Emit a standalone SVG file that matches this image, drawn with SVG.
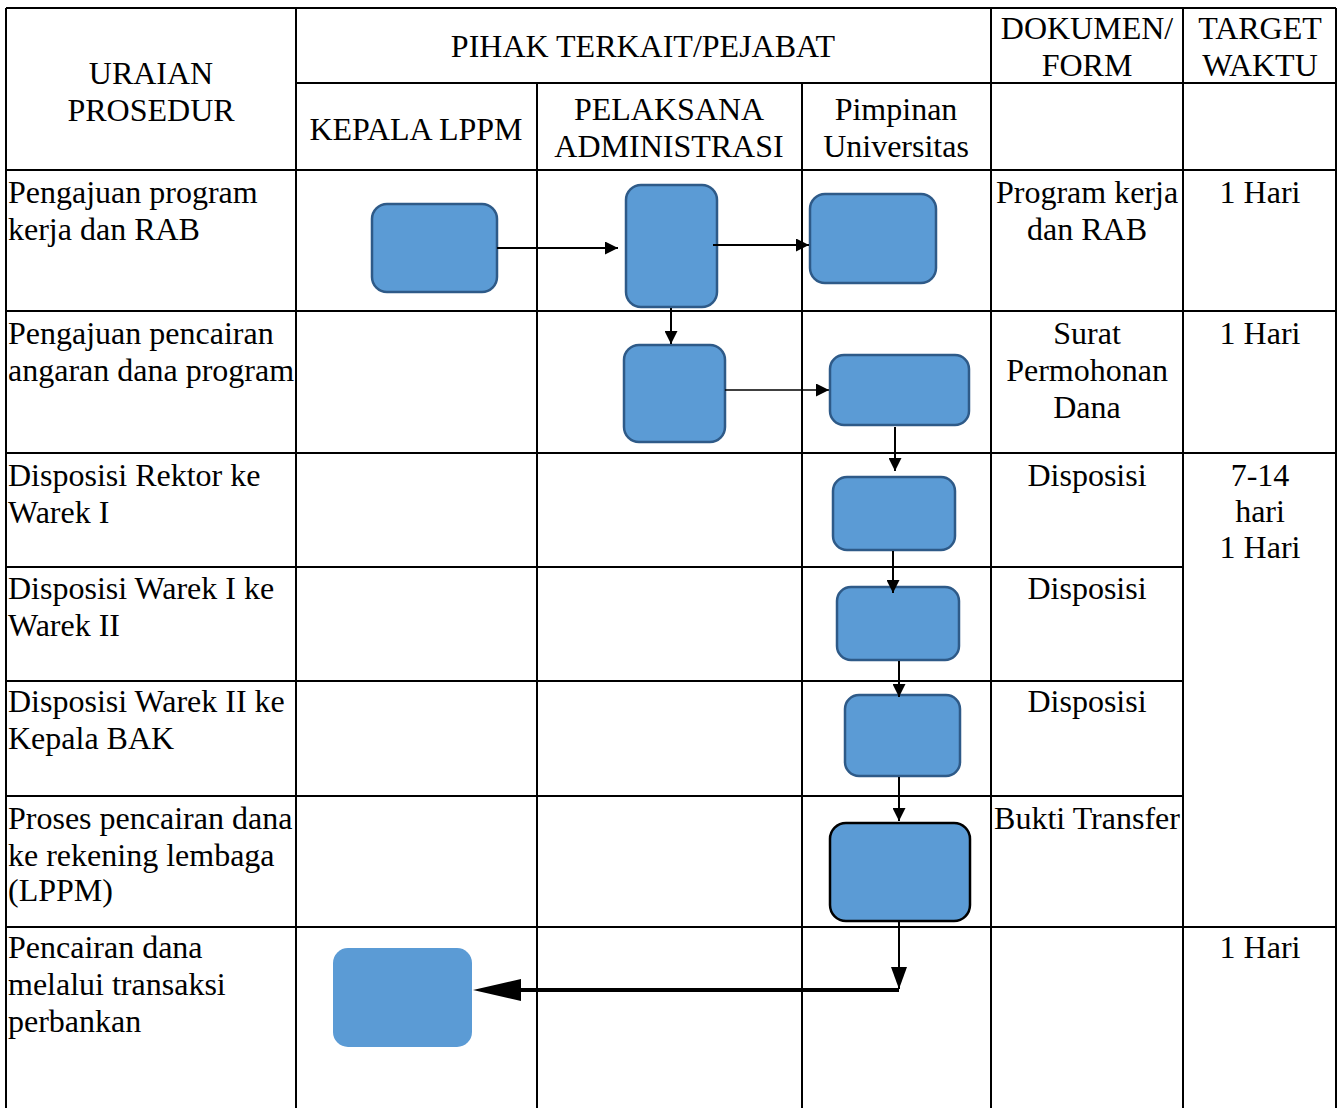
<svg xmlns="http://www.w3.org/2000/svg" width="1340" height="1108" viewBox="0 0 1340 1108">
<defs>
<style>
.g{stroke:#000;stroke-width:2;fill:none}
.t{font-family:"Liberation Serif","Times New Roman",serif;font-size:32px;fill:#000}
.c{text-anchor:middle}
.b{fill:#5B9BD5;stroke:#2E5A88;stroke-width:2.5}
.bk{fill:#5B9BD5;stroke:#000;stroke-width:2.5}
.nb{fill:#5B9BD5;stroke:none}
.cn{stroke:#000;stroke-width:2;fill:none}
</style>
<marker id="ah" markerUnits="userSpaceOnUse" markerWidth="13" markerHeight="13" viewBox="0 0 13 13" refX="13" refY="6.5" orient="auto"><path d="M0,0 L13,6.5 L0,13 z" fill="#000"/></marker>
<marker id="ahn" markerUnits="userSpaceOnUse" markerWidth="22" markerHeight="16" viewBox="0 0 22 16" refX="22" refY="8" orient="auto"><path d="M0,0 L22,8 L0,16 z" fill="#000"/></marker>
<marker id="ahb" markerUnits="userSpaceOnUse" markerWidth="48" markerHeight="22" viewBox="0 0 48 22" refX="0" refY="11" orient="auto"><path d="M0,0 L48,11 L0,22 z" fill="#000"/></marker>
</defs>
<rect x="0" y="0" width="1340" height="1108" fill="#fff"/>
<g id="grid" class="g">
<line x1="6" y1="8" x2="1336" y2="8"/>
<line x1="6" y1="8" x2="6" y2="1108"/>
<line x1="1336" y1="8" x2="1336" y2="1108"/>
<line x1="296" y1="8" x2="296" y2="1108"/>
<line x1="991" y1="8" x2="991" y2="1108"/>
<line x1="1183" y1="8" x2="1183" y2="1108"/>
<line x1="537" y1="83" x2="537" y2="1108"/>
<line x1="802" y1="83" x2="802" y2="1108"/>
<line x1="296" y1="83" x2="1336" y2="83"/>
<line x1="6" y1="170" x2="1336" y2="170"/>
<line x1="6" y1="311" x2="1336" y2="311"/>
<line x1="6" y1="453" x2="1336" y2="453"/>
<line x1="6" y1="567" x2="1183" y2="567"/>
<line x1="6" y1="681" x2="1183" y2="681"/>
<line x1="6" y1="796" x2="1183" y2="796"/>
<line x1="6" y1="927" x2="1336" y2="927"/>
</g>
<g id="header" class="t">
<text class="c" x="151" y="84">URAIAN</text>
<text class="c" x="151" y="121">PROSEDUR</text>
<text class="c" x="643" y="57">PIHAK TERKAIT/PEJABAT</text>
<text class="c" x="1087" y="39">DOKUMEN/</text>
<text class="c" x="1087" y="76">FORM</text>
<text class="c" x="1260" y="39">TARGET</text>
<text class="c" x="1260" y="76">WAKTU</text>
<text class="c" x="416" y="140">KEPALA LPPM</text>
<text class="c" x="669" y="120">PELAKSANA</text>
<text class="c" x="669" y="157">ADMINISTRASI</text>
<text class="c" x="896" y="120">Pimpinan</text>
<text class="c" x="896" y="157">Universitas</text>
</g>
<g id="rows" class="t">
<text x="8" y="203">Pengajuan program</text>
<text x="8" y="240">kerja dan RAB</text>
<text class="c" x="1087" y="203">Program kerja</text>
<text class="c" x="1087" y="240">dan RAB</text>
<text class="c" x="1260" y="203">1 Hari</text>
<text x="8" y="344">Pengajuan pencairan</text>
<text x="8" y="381">angaran dana program</text>
<text class="c" x="1087" y="344">Surat</text>
<text class="c" x="1087" y="381">Permohonan</text>
<text class="c" x="1087" y="418">Dana</text>
<text class="c" x="1260" y="344">1 Hari</text>
<text x="8" y="486">Disposisi Rektor ke</text>
<text x="8" y="523">Warek I</text>
<text class="c" x="1087" y="486">Disposisi</text>
<text class="c" x="1260" y="486">7-14</text>
<text class="c" x="1260" y="522">hari</text>
<text class="c" x="1260" y="558">1 Hari</text>
<text x="8" y="599">Disposisi Warek I ke</text>
<text x="8" y="636">Warek II</text>
<text class="c" x="1087" y="599">Disposisi</text>
<text x="8" y="712">Disposisi Warek II ke</text>
<text x="8" y="749">Kepala BAK</text>
<text class="c" x="1087" y="712">Disposisi</text>
<text x="8" y="829">Proses pencairan dana</text>
<text x="8" y="866">ke rekening lembaga</text>
<text x="8" y="901">(LPPM)</text>
<text class="c" x="1087" y="829">Bukti Transfer</text>
<text x="8" y="958">Pencairan dana</text>
<text x="8" y="995">melalui transaksi</text>
<text x="8" y="1032">perbankan</text>
<text class="c" x="1260" y="958">1 Hari</text>
</g>
<g id="n1"><rect class="b" x="372" y="204" width="125" height="88" rx="15"/></g>
<g id="n2"><rect class="b" x="626" y="185" width="91" height="122" rx="15"/></g>
<g id="n3"><rect class="b" x="810" y="194" width="126" height="89" rx="15"/></g>
<g id="n4"><rect class="b" x="624" y="345" width="101" height="97" rx="15"/></g>
<g id="n5"><rect class="b" x="830" y="355" width="139" height="70" rx="14"/></g>
<g id="n6"><rect class="b" x="833" y="477" width="122" height="73" rx="14"/></g>
<g id="n7"><rect class="b" x="837" y="587" width="122" height="73" rx="14"/></g>
<g id="n8"><rect class="b" x="845" y="695" width="115" height="81" rx="14"/></g>
<g id="n9"><rect class="bk" x="830" y="823" width="140" height="98" rx="16"/></g>
<g id="n10"><rect class="nb" x="333" y="948" width="139" height="99" rx="15"/></g>
<g id="connectors">
<path class="cn" d="M497,248 H618" marker-end="url(#ah)"/>
<path class="cn" d="M713,245 H809" marker-end="url(#ah)"/>
<path class="cn" d="M671,308 V344" marker-end="url(#ah)"/>
<path class="cn" d="M725,390 H829" style="stroke-width:1.6" marker-end="url(#ah)"/>
<path class="cn" d="M895,427 V471" marker-end="url(#ah)"/>
<path class="cn" d="M893,551 V593" marker-end="url(#ah)"/>
<path class="cn" d="M899,661 V697" marker-end="url(#ah)"/>
<path class="cn" d="M899,777 V821" marker-end="url(#ah)"/>
<path class="cn" d="M899,922 V989" marker-end="url(#ahn)"/>
<path class="cn" d="M899,990 H521" style="stroke-width:4" marker-end="url(#ahb)"/>
</g>
</svg>
